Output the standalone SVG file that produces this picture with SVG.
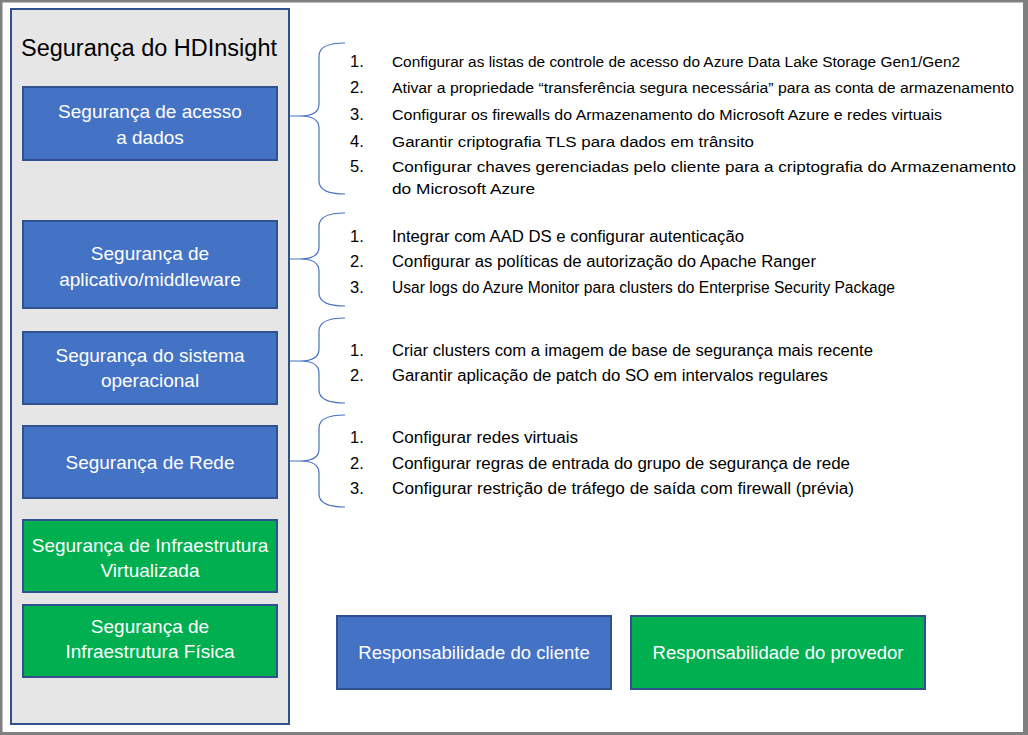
<svg xmlns="http://www.w3.org/2000/svg" width="1028" height="735" viewBox="0 0 1028 735">
<style>
.frame{fill:#7f7f7f}
.bg{fill:#ffffff}
.panel{fill:#e7e6e6;stroke:#2f528f;stroke-width:2}
.blue{fill:#4472c4;stroke:#2f528f;stroke-width:2}
.green{fill:#00b050;stroke:#2f528f;stroke-width:2}
.title{font-family:"Liberation Sans",Arial,sans-serif;font-size:23.5px;fill:#000000;text-anchor:middle}
.lbl{font-family:"Liberation Sans",Arial,sans-serif;font-size:19px;fill:#ffffff;text-anchor:middle}
.leg{font-family:"Liberation Sans",Arial,sans-serif;font-size:18.5px;fill:#ffffff;text-anchor:middle}
.num{font-family:"Liberation Sans",Arial,sans-serif;font-size:16.5px;fill:#000000}
.item{font-family:"Liberation Sans",Arial,sans-serif;font-size:16px;fill:#000000}
.item1{font-family:"Liberation Sans",Arial,sans-serif;font-size:15.5px;fill:#000000}
.brace{fill:none;stroke:#4472c4;stroke-width:1.2}
</style>
<rect class="frame" x="0" y="0" width="1028" height="735"/>
<rect class="bg" x="2.5" y="2.5" width="1020.5" height="729.5"/>
<g id="panel">
<rect class="panel" x="11" y="9" width="278" height="715"/>
<text class="title" x="149" y="56">Segurança do HDInsight</text>
</g>
<g id="node-acesso-dados">
<rect class="blue" x="23" y="87" width="254" height="73"/>
<text class="lbl" x="150" y="118">Segurança de acesso</text>
<text class="lbl" x="150" y="144">a dados</text>
</g>
<g id="node-aplicativo">
<rect class="blue" x="23" y="221" width="254" height="87"/>
<text class="lbl" x="150" y="260">Segurança de</text>
<text class="lbl" x="150" y="286">aplicativo/middleware</text>
</g>
<g id="node-sistema">
<rect class="blue" x="23" y="332" width="254" height="72"/>
<text class="lbl" x="150" y="362">Segurança do sistema</text>
<text class="lbl" x="150" y="387">operacional</text>
</g>
<g id="node-rede">
<rect class="blue" x="23" y="426" width="254" height="72"/>
<text class="lbl" x="150" y="469">Segurança de Rede</text>
</g>
<g id="node-infra-virtual">
<rect class="green" x="23" y="520" width="254" height="72"/>
<text class="lbl" x="150" y="552">Segurança de Infraestrutura</text>
<text class="lbl" x="150" y="577">Virtualizada</text>
</g>
<g id="node-infra-fisica">
<rect class="green" x="23" y="605" width="254" height="72"/>
<text class="lbl" x="150" y="633">Segurança de</text>
<text class="lbl" x="150" y="658">Infraestrutura Física</text>
</g>
<g id="connectors">
<path class="brace" d="M345,43 C327,43 319,47 319,56 L319,104 C319,112 313,116 300,116 L290,116 M300,116 C313,116 319,120 319,128 L319,181 C319,190 327,194 345,194"/>
<path class="brace" d="M345,213 C327,213 319,217 319,226 L319,247 C319,255 313,259 300,259 L290,259 M300,259 C313,259 319,263 319,271 L319,293 C319,302 327,306 345,306"/>
<path class="brace" d="M345,318 C327,318 319,322 319,331 L319,349 C319,357 313,361 300,361 L290,361 M300,361 C313,361 319,365 319,373 L319,390 C319,399 327,403 345,403"/>
<path class="brace" d="M345,415 C327,415 319,419 319,428 L319,449 C319,457 313,461 300,461 L290,461 M300,461 C313,461 319,465 319,473 L319,494 C319,503 327,507 345,507"/>
</g>
<g id="list-acesso-dados">
<text class="num" x="350" y="66.5">1.</text><text class="item1" x="392" y="66.5" textLength="568" lengthAdjust="spacingAndGlyphs">Configurar as listas de controle de acesso do Azure Data Lake Storage Gen1/Gen2</text>
<text class="num" x="350" y="93">2.</text><text class="item1" x="392" y="93" textLength="622" lengthAdjust="spacingAndGlyphs">Ativar a propriedade “transferência segura necessária” para as conta de armazenamento</text>
<text class="num" x="350" y="120">3.</text><text class="item1" x="392" y="120" textLength="550" lengthAdjust="spacingAndGlyphs">Configurar os firewalls do Armazenamento do Microsoft Azure e redes virtuais</text>
<text class="num" x="350" y="146.5">4.</text><text class="item1" x="392" y="146.5" textLength="362" lengthAdjust="spacingAndGlyphs">Garantir criptografia TLS para dados em trânsito</text>
<text class="num" x="350" y="172">5.</text><text class="item1" x="392" y="172" textLength="624" lengthAdjust="spacingAndGlyphs">Configurar chaves gerenciadas pelo cliente para a criptografia do Armazenamento</text>
<text class="item1" x="392" y="193.5" textLength="143" lengthAdjust="spacingAndGlyphs">do Microsoft Azure</text>
</g>
<g id="list-aplicativo">
<text class="num" x="350" y="241.5">1.</text><text class="item" x="392" y="241.5" textLength="352" lengthAdjust="spacingAndGlyphs">Integrar com AAD DS e configurar autenticação</text>
<text class="num" x="350" y="266.5">2.</text><text class="item" x="392" y="266.5" textLength="424" lengthAdjust="spacingAndGlyphs">Configurar as políticas de autorização do Apache Ranger</text>
<text class="num" x="350" y="292.5">3.</text><text class="item" x="392" y="292.5" textLength="503" lengthAdjust="spacingAndGlyphs">Usar logs do Azure Monitor para clusters do Enterprise Security Package</text>
</g>
<g id="list-sistema">
<text class="num" x="350" y="355.5">1.</text><text class="item" x="392" y="355.5" textLength="481" lengthAdjust="spacingAndGlyphs">Criar clusters com a imagem de base de segurança mais recente</text>
<text class="num" x="350" y="381">2.</text><text class="item" x="392" y="381" textLength="436" lengthAdjust="spacingAndGlyphs">Garantir aplicação de patch do SO em intervalos regulares</text>
</g>
<g id="list-rede">
<text class="num" x="350" y="442.5">1.</text><text class="item" x="392" y="442.5" textLength="186" lengthAdjust="spacingAndGlyphs">Configurar redes virtuais</text>
<text class="num" x="350" y="468.5">2.</text><text class="item" x="392" y="468.5" textLength="458" lengthAdjust="spacingAndGlyphs">Configurar regras de entrada do grupo de segurança de rede</text>
<text class="num" x="350" y="494">3.</text><text class="item" x="392" y="494" textLength="462" lengthAdjust="spacingAndGlyphs">Configurar restrição de tráfego de saída com firewall (prévia)</text>
</g>
<g id="legend-cliente">
<rect class="blue" x="337" y="616" width="274" height="73"/>
<text class="leg" x="474" y="659">Responsabilidade do cliente</text>
</g>
<g id="legend-provedor">
<rect class="green" x="631" y="616" width="294" height="73"/>
<text class="leg" x="778" y="659">Responsabilidade do provedor</text>
</g>
</svg>
